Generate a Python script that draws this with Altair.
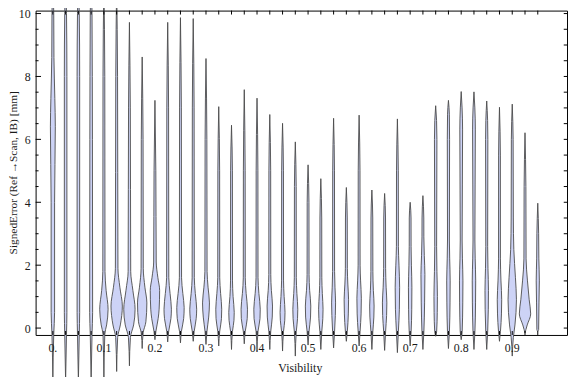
import altair as alt
import pandas as pd

# violin centres (Visibility bins)
centers = [0.0, 0.025, 0.05, 0.075, 0.1, 0.125, 0.15, 0.175, 0.2, 0.225,
           0.25, 0.275, 0.3, 0.325, 0.35, 0.375, 0.4, 0.425, 0.45, 0.475,
           0.5, 0.525, 0.55, 0.575, 0.6, 0.625, 0.65, 0.675, 0.7, 0.725,
           0.75, 0.775, 0.8, 0.825, 0.85, 0.875, 0.9, 0.925, 0.95]

# lowest / highest value of each violin (mm)
lows = [-1.7, -1.7, -1.7, -1.7, -1.7, -1.38, -1.2, -0.65, -0.37, -0.44,
        -0.47, -0.42, -0.52, -0.57, -0.68, -0.5, -0.73, -0.68, -0.73, -0.89,
        -0.54, -0.68, -0.63, -0.42, -0.57, -0.68, -0.71, -0.78, -0.57, -0.68,
        -0.26, -0.65, -0.37, -0.68, -0.68, -0.42, -0.89, -0.16, -0.1]
highs = [11.0, 11.0, 11.0, 11.0, 11.0, 11.0, 9.72, 8.62, 7.24, 9.72,
         9.87, 9.84, 8.57, 7.04, 6.45, 7.58, 7.31, 6.79, 6.51, 5.92,
         5.19, 4.75, 6.67, 4.47, 6.77, 4.39, 4.28, 6.65, 4.0, 4.21,
         7.07, 7.24, 7.52, 7.51, 7.22, 7.02, 7.12, 6.21, 3.97]

# interior profile nodes of each violin: (value, full width in px)
profiles = [
    [(-0.2, 1.8), (0.5, 3.5), (4.0, 3.5), (6.4, 5.0), (7.3, 4.0), (8.6, 2.2), (10.0, 1.8)],
    [(-0.2, 1.8), (0.5, 2.6), (8.0, 2.6), (10.0, 1.8)],
    [(-0.2, 1.8), (0.5, 2.6), (8.0, 2.6), (10.0, 1.8)],
    [(-0.2, 1.8), (0.5, 3.0), (6.0, 2.6), (10.0, 1.8)],
    [(-0.2, 1.8), (0.1, 5.5), (0.6, 8.5), (1.2, 4.5), (1.8, 2.2), (8.0, 1.8)],
    [(-0.3, 2.0), (0.1, 7.5), (0.7, 11.5), (1.3, 6.5), (1.9, 2.6), (8.0, 1.8)],
    [(-0.3, 2.0), (0.1, 8.5), (0.6, 11.5), (1.2, 7.0), (1.8, 2.6), (7.0, 1.8)],
    [(-0.15, 2.0), (0.2, 7.5), (0.8, 9.5), (1.3, 5.5), (1.9, 2.2), (6.0, 1.8)],
    [(-0.1, 2.0), (0.3, 6.5), (0.6, 8.5), (1.2, 9.5), (1.6, 6.0), (2.1, 2.6), (5.0, 1.8)],
    [(-0.1, 2.0), (0.3, 6.5), (0.6, 7.5), (1.1, 4.8), (1.6, 2.2), (7.0, 1.8)],
    [(-0.1, 2.0), (0.3, 6.5), (0.65, 7.5), (1.1, 4.8), (1.6, 2.2), (7.0, 1.8)],
    [(-0.1, 2.0), (0.3, 6.0), (0.6, 7.0), (1.1, 4.2), (1.6, 2.2), (7.0, 1.8)],
    [(-0.1, 2.0), (0.35, 5.5), (0.8, 7.0), (1.3, 4.2), (1.8, 2.2), (6.0, 1.8)],
    [(-0.1, 2.0), (0.3, 5.5), (0.6, 6.0), (1.1, 3.8), (1.6, 2.0), (5.0, 1.8)],
    [(-0.1, 2.0), (0.25, 5.0), (0.5, 5.5), (1.0, 3.2), (1.5, 2.0), (5.0, 1.8)],
    [(-0.1, 2.0), (0.3, 6.0), (0.6, 6.5), (1.1, 3.8), (1.6, 2.0), (5.0, 1.8)],
    [(-0.1, 2.0), (0.3, 6.0), (0.6, 6.5), (1.1, 3.8), (1.6, 2.0), (5.0, 1.8)],
    [(-0.1, 2.0), (0.35, 5.0), (0.7, 5.5), (1.2, 3.2), (1.7, 2.0), (5.0, 1.8)],
    [(-0.1, 2.0), (0.25, 4.5), (0.5, 5.0), (1.0, 3.2), (1.5, 2.0), (5.0, 1.8)],
    [(-0.1, 2.0), (0.3, 4.5), (0.6, 5.0), (1.1, 3.2), (1.6, 2.0), (4.5, 1.8)],
    [(-0.1, 2.0), (0.35, 5.0), (0.7, 5.5), (1.2, 3.2), (1.7, 2.0), (4.0, 1.8)],
    [(-0.1, 2.0), (0.3, 4.0), (0.6, 4.5), (1.1, 3.0), (1.6, 2.0), (3.5, 1.8)],
    [(-0.1, 2.0), (0.4, 3.5), (0.8, 4.0), (1.3, 2.8), (1.8, 2.0), (5.0, 1.8)],
    [(-0.1, 2.0), (0.45, 4.0), (0.9, 4.5), (1.4, 3.0), (1.9, 2.0), (3.5, 1.8)],
    [(-0.1, 2.0), (0.45, 4.0), (0.95, 4.5), (1.5, 3.0), (2.0, 2.0), (5.0, 1.8)],
    [(-0.1, 2.0), (0.35, 4.0), (0.7, 4.5), (1.2, 3.0), (1.8, 2.0), (3.5, 1.8)],
    [(-0.1, 2.0), (0.4, 4.0), (0.8, 4.5), (1.3, 3.0), (1.9, 2.0), (3.5, 1.8)],
    [(-0.1, 2.0), (0.6, 4.0), (1.3, 4.5), (2.0, 3.2), (2.6, 2.0), (5.0, 1.8)],
    [(-0.1, 2.0), (0.6, 3.2), (1.3, 3.5), (2.0, 2.5), (2.6, 1.9), (3.5, 1.8)],
    [(-0.1, 2.0), (0.8, 3.4), (1.7, 4.0), (2.3, 2.8), (2.9, 1.9), (3.5, 1.8)],
    [(-0.1, 2.0), (0.5, 3.2), (1.0, 3.5), (1.8, 2.5), (2.6, 1.9), (6.0, 2.5), (6.6, 1.8)],
    [(-0.1, 2.0), (0.8, 3.2), (1.5, 3.5), (2.2, 2.5), (2.8, 1.9), (6.0, 2.3), (6.8, 1.8)],
    [(-0.1, 2.0), (0.8, 3.2), (1.5, 3.5), (2.2, 2.5), (2.8, 1.9), (6.3, 2.8), (7.0, 1.8)],
    [(-0.1, 2.0), (0.8, 3.2), (1.5, 3.5), (2.2, 2.5), (2.8, 1.9), (6.3, 2.8), (7.0, 1.8)],
    [(-0.1, 2.0), (0.6, 3.2), (1.2, 3.5), (1.9, 2.5), (2.6, 1.9), (6.0, 2.3), (6.6, 1.8)],
    [(-0.1, 2.0), (0.45, 4.0), (0.9, 4.5), (1.5, 3.0), (2.2, 1.9), (5.5, 1.8)],
    [(-0.3, 2.2), (0.1, 5.5), (0.9, 8.5), (1.6, 6.5), (2.5, 3.2), (3.5, 2.2), (6.0, 1.8)],
    [(-0.05, 1.8), (0.1, 4.5), (0.45, 11.5), (0.9, 8.5), (1.5, 5.0), (2.2, 2.2), (4.5, 1.8)],
    [(-0.05, 1.8), (0.8, 2.5), (1.5, 3.2), (2.2, 2.2), (3.0, 1.8)],
]

# axis labels and ticks
x_label_values = [0.0, 0.1, 0.2, 0.3, 0.4, 0.5, 0.6, 0.7, 0.8, 0.9]
x_label_texts = ["0.", "0.1", "0.2", "0.3", "0.4", "0.5", "0.6", "0.7", "0.8", "0.9"]
y_label_values = [0, 2, 4, 6, 8, 10]
y_label_texts = ["0", "2", "4", "6", "8", "10"]
y_major_ticks = [0, 2, 4, 6, 8, 10]
y_minor_ticks = [0.5, 1, 1.5, 2.5, 3, 3.5, 4.5, 5, 5.5, 6.5, 7, 7.5, 8.5, 9, 9.5]
y_right_ticks = [0, 0.5, 1, 1.5, 2, 2.5, 3, 3.5, 4, 4.5, 5, 5.5, 6, 6.5, 7, 7.5,
                 8, 8.5, 9, 9.5, 10]
x_title = "Visibility"
y_title = "SignedError (Ref →Scan, IB) [mm]"

rows = []
for i, c in enumerate(centers):
    nodes = [(lows[i], 0.0)] + profiles[i] + [(highs[i], 0.0)]
    for y, w in nodes:
        rows.append({"v": i, "c": c, "y": y, "hw": w / 2.0})
df = pd.DataFrame(rows)

W, H = 539, 329
PX = 517.7  # pixels per visibility unit
FONT = "Liberation Serif"
TXT = "#1a1a1a"

xscale = alt.Scale(domain=[-0.0338, 1.0073], nice=False, zero=False)
yscale = alt.Scale(domain=[-0.219, 10.094], nice=False, zero=False)

violins = alt.Chart(df).transform_calculate(
    xl=f"datum.c - datum.hw / {PX}",
    xr=f"datum.c + datum.hw / {PX}",
).mark_area(
    orient="horizontal", interpolate="monotone", fill="#cdd3f6",
    stroke="#4a4a4a", strokeWidth=0.9, clip=False,
).encode(
    y=alt.Y("y:Q", scale=yscale, axis=None),
    x=alt.X("xl:Q", scale=xscale, axis=None),
    x2="xr:Q",
    detail="v:N",
)

xt = pd.DataFrame({"c": centers})
bottom_ticks = alt.Chart(xt).mark_rule(color="black", strokeWidth=1).encode(
    x=alt.X("c:Q", scale=xscale, axis=None), y=alt.value(H), y2=alt.value(H - 4))
top_ticks = alt.Chart(xt).mark_rule(color="black", strokeWidth=1).encode(
    x=alt.X("c:Q", scale=xscale, axis=None), y=alt.value(0), y2=alt.value(4))

ymaj = pd.DataFrame({"t": y_major_ticks})
ymin = pd.DataFrame({"t": y_minor_ticks})
yr = pd.DataFrame({"t": y_right_ticks})
left_major = alt.Chart(ymaj).mark_rule(color="black", strokeWidth=1).encode(
    y=alt.Y("t:Q", scale=yscale, axis=None), x=alt.value(0), x2=alt.value(5.5))
left_minor = alt.Chart(ymin).mark_rule(color="black", strokeWidth=1).encode(
    y=alt.Y("t:Q", scale=yscale, axis=None), x=alt.value(0), x2=alt.value(3))
right_ticks = alt.Chart(yr).mark_rule(color="black", strokeWidth=1).encode(
    y=alt.Y("t:Q", scale=yscale, axis=None), x=alt.value(W), x2=alt.value(W - 3.3))

ylab = pd.DataFrame({"t": y_label_values, "s": y_label_texts})
y_labels = alt.Chart(ylab).mark_text(
    align="right", baseline="middle", font=FONT, fontSize=12, color=TXT, dy=0.5
).encode(y=alt.Y("t:Q", scale=yscale, axis=None), x=alt.value(-5), text="s:N")

xlab = pd.DataFrame({"t": x_label_values, "s": x_label_texts})
x_labels = alt.Chart(xlab).mark_text(
    align="center", baseline="alphabetic", font=FONT, fontSize=12, color=TXT
).encode(x=alt.X("t:Q", scale=xscale, axis=None), y=alt.value(H + 17), text="s:N")

xtitle = alt.Chart(pd.DataFrame({"s": [x_title]})).mark_text(
    align="center", baseline="alphabetic", font=FONT, fontSize=12, color=TXT
).encode(x=alt.value(W / 2 - 1), y=alt.value(H + 38), text="s:N")

ytitle = alt.Chart(pd.DataFrame({"s": [y_title]})).mark_text(
    align="center", baseline="alphabetic", font=FONT, fontSize=11.5, color=TXT,
    angle=270
).encode(x=alt.value(-18.5), y=alt.value(H / 2), text="s:N")

chart = alt.layer(
    violins, bottom_ticks, top_ticks, left_major, left_minor, right_ticks,
    y_labels, x_labels, xtitle, ytitle
).properties(
    width=W, height=H,
    autosize=alt.AutoSizeParams(type="none"),
    padding={"left": 28, "top": 0, "right": 1, "bottom": 40},
    background="white",
).configure_view(stroke="black", strokeWidth=1)

chart.save("out.html", embed_options={"renderer": "svg", "actions": False})
